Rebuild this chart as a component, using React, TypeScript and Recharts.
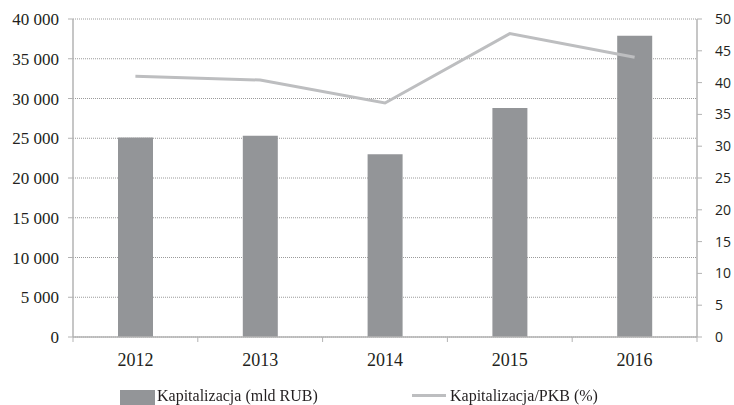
import React from 'react';
import { ComposedChart, Bar, Line, XAxis, YAxis, CartesianGrid } from 'recharts';

const years = ['2012', '2013', '2014', '2015', '2016'];
const capitalization = [25100, 25300, 23000, 28800, 37900];
const capToGdp = [41.0, 40.4, 36.8, 47.7, 44.0];
const leftTicks = [0, 5000, 10000, 15000, 20000, 25000, 30000, 35000, 40000];
const rightTicks = [0, 5, 10, 15, 20, 25, 30, 35, 40, 45, 50];

const data = years.map((year, i) => ({
  year,
  cap: capitalization[i],
  pct: capToGdp[i],
}));

const axisGray = '#b3b3b3';
const barGray = '#939598';
const lineGray = '#bdbec0';
const serif = '"Liberation Serif", "Times New Roman", serif';
const sans = '"Open Sans", "Liberation Sans", sans-serif';

const fmtThousands = (v: number) =>
  v >= 1000 ? `${Math.floor(v / 1000)} ${String(v % 1000).padStart(3, '0')}` : String(v);

// category label + tick marks on the category boundaries (Excel style)
const YearTick = (props: any) => {
  const { x, y, payload, index, visibleTicksCount } = props;
  const half = payload.offset ?? 0;
  const axisY = y - 16;
  const isLast = index === visibleTicksCount - 1;
  return (
    <g>
      <line x1={x - half} x2={x - half} y1={axisY} y2={axisY + 5} stroke={axisGray} />
      {isLast && <line x1={x + half} x2={x + half} y1={axisY} y2={axisY + 5} stroke={axisGray} />}
      <text x={x} y={y} dy="0.71em" textAnchor="middle" fill="#231f20" fontSize={18} fontFamily={serif}>
        {payload.value}
      </text>
    </g>
  );
};

export default function App() {
  return (
    <div style={{ position: 'fixed', left: 0, top: 0, width: 734, height: 405, background: '#fff' }}>
      <ComposedChart
        width={734}
        height={405}
        data={data}
        margin={{ top: 19, right: 0, bottom: 38, left: 0 }}
      >
        <CartesianGrid vertical={false} stroke="#9a9a9a" strokeDasharray="1 1" yAxisId="left" />
        <XAxis
          dataKey="year"
          height={30}
          axisLine={{ stroke: axisGray, strokeWidth: 1.5 }}
          tickLine={false}
          tickSize={6}
          tickMargin={10}
          tick={<YearTick />}
        />
        <YAxis
          yAxisId="left"
          width={73}
          domain={[0, 40000]}
          ticks={leftTicks}
          interval={0}
          tickFormatter={fmtThousands}
          axisLine={{ stroke: axisGray, strokeWidth: 1.5 }}
          tickLine={{ stroke: axisGray }}
          tickSize={5}
          tickMargin={9}
          tick={{ fill: '#231f20', fontSize: 17, fontFamily: serif }}
        />
        <YAxis
          yAxisId="right"
          orientation="right"
          width={37}
          domain={[0, 50]}
          ticks={rightTicks}
          interval={0}
          axisLine={{ stroke: axisGray, strokeWidth: 1.5 }}
          tickLine={{ stroke: axisGray }}
          tickSize={5}
          tickMargin={13}
          tick={{ fill: '#231f20', fontSize: 14, fontFamily: sans, textAnchor: 'start' }}
        />
        <Bar yAxisId="left" dataKey="cap" fill={barGray} barSize={35} isAnimationActive={false} />
        <Line
          yAxisId="right"
          dataKey="pct"
          type="linear"
          stroke={lineGray}
          strokeWidth={3}
          dot={false}
          isAnimationActive={false}
        />
      </ComposedChart>

      {/* legend */}
      <div style={{ position: 'absolute', left: 120, top: 390, width: 35, height: 15, background: barGray }} />
      <div
        style={{
          position: 'absolute', left: 157, top: 386, fontFamily: serif, fontSize: 16,
          color: '#231f20', whiteSpace: 'nowrap', lineHeight: '20px',
        }}
      >
        Kapitalizacja (mld RUB)
      </div>
      <div style={{ position: 'absolute', left: 412, top: 394, width: 34, height: 3, background: lineGray }} />
      <div
        style={{
          position: 'absolute', left: 450, top: 386, fontFamily: serif, fontSize: 16,
          color: '#231f20', whiteSpace: 'nowrap', lineHeight: '20px',
        }}
      >
        Kapitalizacja/PKB (%)
      </div>
    </div>
  );
}
